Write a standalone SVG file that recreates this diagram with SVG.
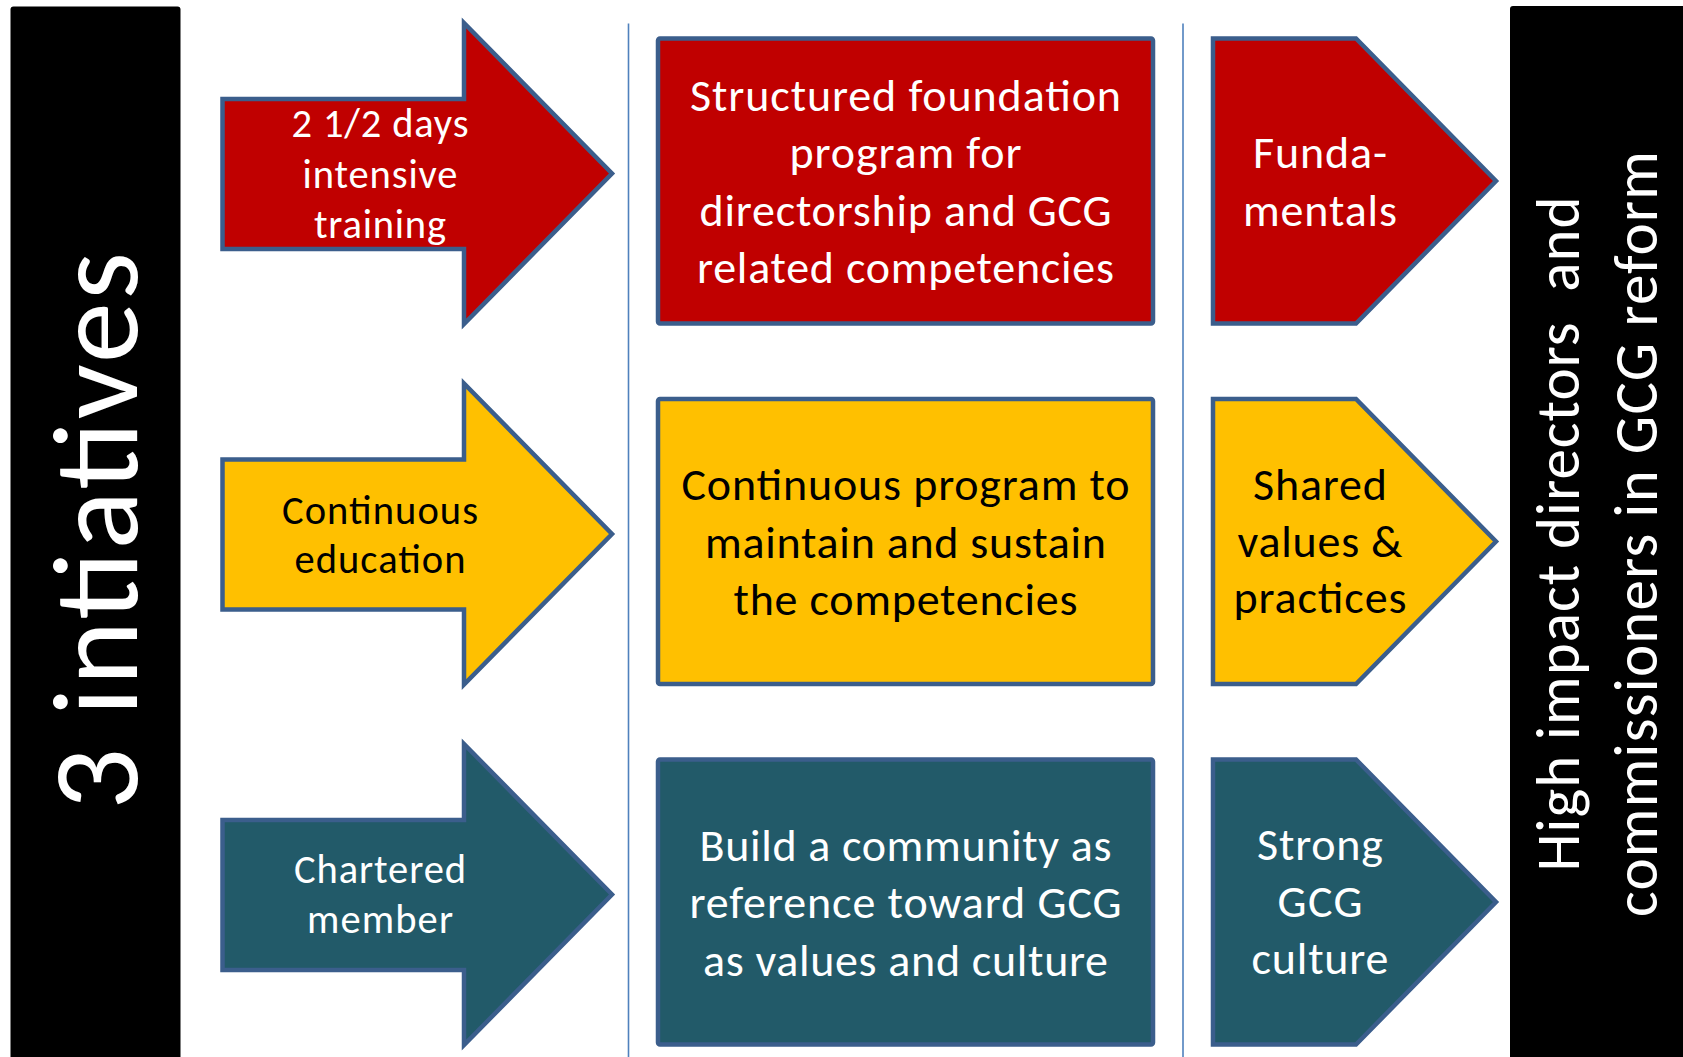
<svg xmlns="http://www.w3.org/2000/svg" width="1683" height="1057" viewBox="0 0 1683 1057">
<style>
.t{font-family:Carlito,Lato,"Liberation Sans",sans-serif;text-anchor:middle}
.w{fill:#ffffff}
.k{fill:#000000}
.sh{stroke:#3B5E8C;stroke-width:4.5;stroke-linejoin:miter}
.red{fill:#C00000}
.yel{fill:#FFC000}
.teal{fill:#225A69}
.big{font-size:122px}
.side{font-size:61px}
.box{font-size:46px}
.arr{font-size:40.5px}
.sep{stroke:#4F81BD;stroke-width:1.6;fill:none}
</style>
<rect width="1683" height="1057" fill="#ffffff"/>
<g id="left-bar">
<rect x="10.5" y="6.5" width="170" height="1060" rx="3" fill="#000000"/>
<text class="t w big" transform="translate(137,531) rotate(-90)" textLength="558">3 intiatives</text>
</g>
<g id="right-bar">
<rect x="1510" y="6" width="190" height="1060" rx="3" fill="#000000"/>
<text class="t w side" xml:space="preserve" transform="translate(1579,534) rotate(-90)" textLength="675">High impact directors  and</text>
<text class="t w side" transform="translate(1657,534) rotate(-90)" textLength="766">commissioners in GCG reform</text>
</g>
<g id="connectors">
<line class="sep" x1="628.5" y1="23.5" x2="628.5" y2="1057"/>
<line class="sep" x1="1183" y1="23.5" x2="1183" y2="1057"/>
</g>
<g id="arrow-1">
<polygon class="sh red" points="222.5,99 464,99 464,23 612,173.5 464,324 464,249 222.5,249"/>
<text class="t w arr" x="380" y="137" textLength="177">2 1/2 days</text>
<text class="t w arr" x="380" y="188" textLength="155">intensive</text>
<text class="t w arr" x="380" y="238" textLength="132">training</text>
</g>
<g id="arrow-2">
<polygon class="sh yel" points="222.5,459.5 464,459.5 464,383.5 612,534 464,684.5 464,609.5 222.5,609.5"/>
<text class="t k arr" x="380" y="524" textLength="196">Continuous</text>
<text class="t k arr" x="380" y="573" textLength="171">education</text>
</g>
<g id="arrow-3">
<polygon class="sh teal" points="222.5,820 464,820 464,744 612,894.5 464,1045 464,970 222.5,970"/>
<text class="t w arr" x="380" y="883" textLength="172">Chartered</text>
<text class="t w arr" x="380" y="933" textLength="146">member</text>
</g>
<g id="box-1">
<rect class="sh red" x="658" y="38.5" width="495" height="285" rx="2"/>
<text class="t w box" x="905.5" y="110.5" textLength="431">Structured foundation</text>
<text class="t w box" x="905.5" y="168" textLength="232">program for</text>
<text class="t w box" x="905.5" y="225.5" textLength="412">directorship and GCG</text>
<text class="t w box" x="905.5" y="283" textLength="417">related competencies</text>
</g>
<g id="box-2">
<rect class="sh yel" x="658" y="399" width="495" height="285" rx="2"/>
<text class="t k box" x="905.5" y="500" textLength="448">Continuous program to</text>
<text class="t k box" x="905.5" y="557.5" textLength="401">maintain and sustain</text>
<text class="t k box" x="905.5" y="615" textLength="344">the competencies</text>
</g>
<g id="box-3">
<rect class="sh teal" x="658" y="759.5" width="495" height="285" rx="2"/>
<text class="t w box" x="905.5" y="860.5" textLength="412">Build a community as</text>
<text class="t w box" x="905.5" y="918" textLength="432">reference toward GCG</text>
<text class="t w box" x="905.5" y="975.5" textLength="405">as values and culture</text>
</g>
<g id="result-1">
<polygon class="sh red" points="1213,38.5 1356,38.5 1496,181 1356,323.5 1213,323.5"/>
<text class="t w box" x="1320" y="168" textLength="134">Funda-</text>
<text class="t w box" x="1320" y="226" textLength="154">mentals</text>
</g>
<g id="result-2">
<polygon class="sh yel" points="1213,399 1356,399 1496,541.5 1356,684 1213,684"/>
<text class="t k box" x="1320" y="500" textLength="134">Shared</text>
<text class="t k box" x="1320" y="557" textLength="165">values &amp;</text>
<text class="t k box" x="1320" y="613" textLength="173">practices</text>
</g>
<g id="result-3">
<polygon class="sh teal" points="1213,759.5 1356,759.5 1496,902 1356,1044.5 1213,1044.5"/>
<text class="t w box" x="1320" y="860" textLength="126">Strong</text>
<text class="t w box" x="1320" y="917" textLength="85">GCG</text>
<text class="t w box" x="1320" y="974" textLength="137">culture</text>
</g>
</svg>
